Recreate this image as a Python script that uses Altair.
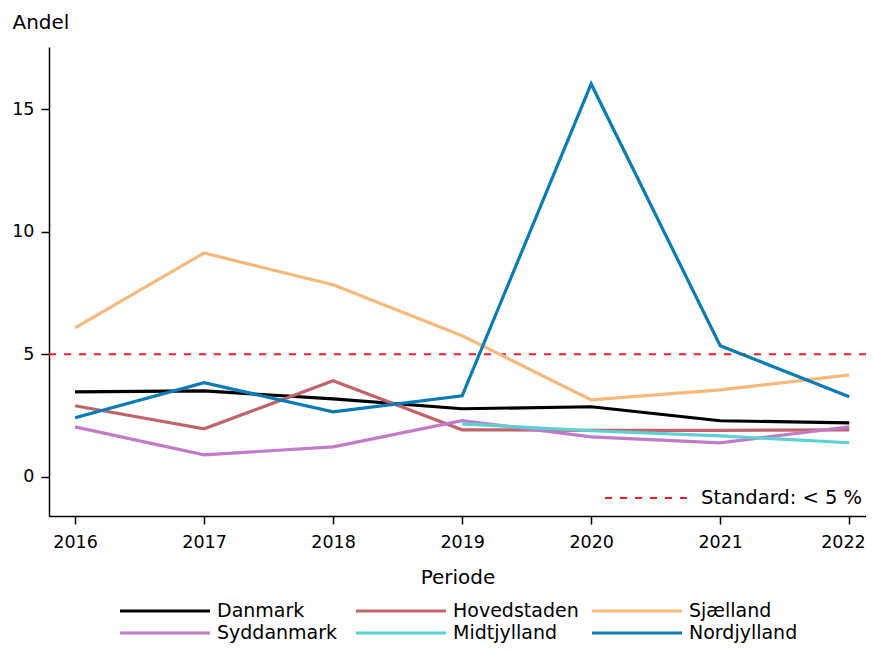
import altair as alt
import pandas as pd

years = [2016, 2017, 2018, 2019, 2020, 2021, 2022]
regions = ["Danmark", "Hovedstaden", "Sjælland", "Syddanmark", "Midtjylland", "Nordjylland"]
colors = ["#000000", "#c0646c", "#f6b97a", "#c07cc6", "#5ad2d2", "#0a7bb7"]

danmark = [3.47, 3.51, 3.18, 2.78, 2.86, 2.29, 2.2]
hovedstaden = [2.9, 1.96, 3.92, 1.92, 1.9, 1.9, 1.92]
sjaelland = [6.08, 9.14, 7.84, 5.76, 3.14, 3.55, 4.16]
syddanmark = [2.04, 0.9, 1.22, 2.29, 1.63, 1.39, 2.04]
midtjylland = [None, None, None, 2.16, 1.88, 1.67, 1.39]
nordjylland = [2.41, 3.84, 2.65, 3.31, 16.04, 5.35, 3.27]

standard_value = [5]
standard_label = ["Standard: < 5 %"]

series = [danmark, hovedstaden, sjaelland, syddanmark, midtjylland, nordjylland]
rows = []
for name, vals in zip(regions, series):
    for yr, v in zip(years, vals):
        if v is not None:
            rows.append({"Periode": yr, "Andel": v, "Region": name})
df = pd.DataFrame(rows)
std_df = pd.DataFrame({"y": standard_value, "label": standard_label})

FONT = "DejaVu Sans"

x_scale = alt.Scale(domain=[2015.798, 2022.13], nice=False, zero=False)
y_scale = alt.Scale(domain=[-1.6, 17.55], nice=False, zero=False)

rule = alt.Chart(std_df).mark_rule(strokeWidth=2, color="#e8202a").encode(
    y=alt.Y("y:Q", scale=y_scale),
    strokeDash=alt.StrokeDash(
        "label:N",
        scale=alt.Scale(domain=standard_label, range=[[7, 8]]),
        legend=alt.Legend(
            title=None, orient="none", legendX=555, legendY=440,
            symbolType="M-1,0H7.4", symbolSize=400, symbolStrokeWidth=2,
            symbolStrokeColor="#e8202a",
            labelFont=FONT, labelFontSize=19.5, labelColor="#000", labelOffset=75,
            labelLimit=400,
        ),
    ),
)

lines = alt.Chart(df).mark_line(strokeWidth=3.2, clip=True).encode(
    x=alt.X(
        "Periode:Q", scale=x_scale,
        axis=alt.Axis(
            values=years, format="d", grid=False, title="Periode",
            labelFont=FONT, labelFontSize=17.5, labelColor="#000", labelPadding=9,
            labelFlush=20, labelFlushOffset=16,
            tickSize=8, tickColor="#000", tickWidth=1.5, domainColor="#000", domainWidth=1.5,
            titleFont=FONT, titleFontSize=20, titleFontWeight="normal", titleColor="#000",
            titleY=61, titleBaseline="middle",
        ),
    ),
    y=alt.Y(
        "Andel:Q", scale=y_scale,
        axis=alt.Axis(
            values=[0, 5, 10, 15], grid=False, title="Andel",
            labelFont=FONT, labelFontSize=17.5, labelColor="#000", labelPadding=7,
            tickSize=8, tickColor="#000", tickWidth=1.5, domainColor="#000", domainWidth=1.5,
            titleFont=FONT, titleFontSize=20, titleFontWeight="normal", titleColor="#000",
            titleAngle=0, titleAlign="left", titleBaseline="middle", titleX=-37, titleY=-25,
        ),
    ),
    color=alt.Color(
        "Region:N",
        scale=alt.Scale(domain=regions, range=colors),
        legend=alt.Legend(
            title=None, orient="none", legendX=69, legendY=552, columns=3,
            direction="horizontal", gridAlign="all",
            symbolType="M-1,0H8", symbolSize=400, symbolStrokeWidth=3.2,
            labelFont=FONT, labelFontSize=19, labelColor="#000", labelOffset=75,
            labelLimit=400, columnPadding=6, rowPadding=0,
        ),
    ),
    detail="Region:N",
)

chart = alt.layer(rule, lines).properties(
    width=817, height=469,
    background="white",
    autosize=alt.AutoSizeParams(type="none"),
    padding={"left": 41, "top": 39, "right": 0, "bottom": 128},
).configure_view(stroke=None)

chart.save("out.html", embed_options={"renderer": "svg", "actions": False})
